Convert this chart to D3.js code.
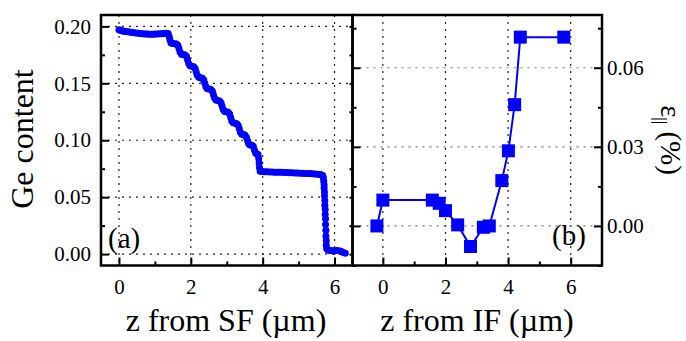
<!DOCTYPE html>
<html><head><meta charset="utf-8">
<script src="https://cdn.jsdelivr.net/npm/d3@7"></script>
</head><body style="margin:0;background:#fff">
<svg id="c" width="686" height="341"></svg>
<script>
// ---- Data: panel (a) Ge content vs z from SF (µm)
const zA = [0.00,0.04,0.08,0.13,0.18,0.24,0.30,0.36,0.42,0.48,0.54,0.60,0.66,0.72,0.78,0.84,0.90,0.96,1.02,1.08,1.14,1.20,1.26,1.32,1.37,1.40,1.42,1.45,
 1.50,1.55,1.60,1.64,1.67,1.70,1.74,1.79,1.84,1.88,1.91,1.94,1.98,2.03,2.08,2.12,2.15,2.18,2.22,2.27,2.32,2.36,2.39,2.42,2.46,2.51,2.56,2.60,2.63,2.66,
 2.70,2.75,2.80,2.84,2.87,2.90,2.94,2.99,3.04,3.08,3.11,3.14,3.18,3.23,3.28,3.32,3.35,3.38,3.42,3.47,3.51,3.55,3.58,3.61,3.65,3.70,3.74,3.77,3.80,3.84,
 3.87,3.89,3.90,3.91,3.93,3.98,4.05,4.12,4.19,4.26,4.33,4.40,4.47,4.54,4.61,4.68,4.75,4.82,4.89,4.96,5.03,5.10,5.17,5.24,5.31,5.38,5.45,5.52,5.58,5.63,
 5.67,5.69,5.70,5.71,5.71,5.72,5.72,5.73,5.73,5.74,5.74,5.75,5.75,5.76,5.76,5.77,5.77,5.78,5.82,5.88,5.94,6.00,6.06,6.12,6.18,6.24,6.30];
const geA = [0.1970,0.1965,0.1962,0.1958,0.1955,0.1952,0.1950,0.1947,0.1945,0.1942,0.1940,0.1938,0.1936,0.1934,0.1933,0.1932,0.1932,0.1932,0.1933,0.1934,0.1935,0.1936,0.1938,0.1940,0.1938,0.1910,0.1880,0.1855,
 0.1850,0.1848,0.1845,0.1835,0.1805,0.1775,0.1755,0.1752,0.1748,0.1735,0.1705,0.1675,0.1655,0.1650,0.1646,0.1630,0.1600,0.1570,0.1553,0.1550,0.1545,0.1530,0.1500,0.1470,0.1453,0.1450,0.1445,0.1430,0.1400,0.1370,
 0.1353,0.1350,0.1345,0.1330,0.1300,0.1270,0.1253,0.1250,0.1245,0.1230,0.1200,0.1170,0.1153,0.1150,0.1145,0.1130,0.1100,0.1070,0.1053,0.1050,0.1045,0.1025,0.0995,0.0970,0.0958,0.0955,0.0945,0.0915,0.0890,0.0880,
 0.0875,0.0840,0.0800,0.0760,0.0728,0.0725,0.0724,0.0723,0.0722,0.0721,0.0720,0.0720,0.0719,0.0718,0.0717,0.0716,0.0715,0.0714,0.0713,0.0712,0.0711,0.0710,0.0709,0.0708,0.0707,0.0706,0.0704,0.0702,0.0700,0.0697,
 0.0690,0.0670,0.0640,0.0610,0.0580,0.0545,0.0510,0.0470,0.0430,0.0395,0.0350,0.0310,0.0260,0.0210,0.0160,0.0120,0.0080,0.0050,0.0035,0.0032,0.0030,0.0030,0.0031,0.0030,0.0025,0.0015,0.0008];

// ---- Data: panel (b) strain vs z from IF (µm)
const zB   = [-0.19, 0.00, 1.58, 1.80, 2.00, 2.39, 2.80, 3.21, 3.40, 3.80, 4.01, 4.21, 4.39, 5.78];
const epsB = [0.0000, 0.0098, 0.0098, 0.0086, 0.0058, 0.0004, -0.0078, -0.0005, 0.0000, 0.0172, 0.0285, 0.0460, 0.0716, 0.0716];

// ---- Tick values
const xMajor = [0, 2, 4, 6];
const xMinor = [1, 3, 5];
const yAMajor = [0, 0.05, 0.10, 0.15, 0.20];
const yAMinor = [0.025, 0.075, 0.125, 0.175];
const yBMajor = [0, 0.03, 0.06];
const yBMinor = [-0.015, 0.015, 0.045, 0.075];

const FONT = "Liberation Serif";
const svg = d3.select("#c");
const yTop = 15, yBot = 265.5;
const axL = 101, mid = 352.5, axR = 602;
const blue = "#0000ff";

const xA = d3.scaleLinear().domain([-0.5, 6.5]).range([axL, mid]);
const yA = d3.scaleLinear().domain([-0.01, 0.21]).range([yBot, yTop]);
const xB = d3.scaleLinear().domain([-0.97, 7]).range([mid, axR]);
const yB = d3.scaleLinear().domain([-0.015, 0.08]).range([yBot, yTop]);

function grid(x, y, xv, yv, hColor) {
  const g = svg.append("g");
  g.selectAll("line.v").data(xv).join("line").attr("class", "v")
    .attr("x1", d => x(d)).attr("x2", d => x(d)).attr("y1", yTop).attr("y2", yBot)
    .attr("stroke", "#222").attr("stroke-width", 1.2).attr("stroke-dasharray", "2,5");
  g.selectAll("line.h").data(yv).join("line").attr("class", "h")
    .attr("x1", x.range()[0]).attr("x2", x.range()[1]).attr("y1", d => y(d)).attr("y2", d => y(d))
    .attr("stroke", hColor).attr("stroke-width", 1.2).attr("stroke-dasharray", "2,5");
}
grid(xA, yA, xMajor, yAMajor, "#222");
grid(xB, yB, xMajor, yBMajor, "#777");

function styleAxis(g, fs) {
  g.attr("font-family", FONT).attr("font-size", fs);
  g.select(".domain").remove();
  g.selectAll(".tick line").attr("stroke", "#000").attr("stroke-width", 2);
  g.selectAll("text").attr("font-size", fs).attr("fill", "#000").attr("font-family", FONT);
}
const fsTick = 21;

// Panel A axes
let g;
g = svg.append("g").attr("transform", `translate(0,${yBot})`)
  .call(d3.axisBottom(xA).tickValues(xMajor).tickSize(-8).tickPadding(14).tickFormat(d3.format("d")));
styleAxis(g, fsTick);
g = svg.append("g").attr("transform", `translate(0,${yBot})`)
  .call(d3.axisBottom(xA).tickValues(xMinor).tickSize(-4).tickFormat(""));
styleAxis(g, fsTick);
g = svg.append("g").attr("transform", `translate(${axL},0)`)
  .call(d3.axisLeft(yA).tickValues(yAMajor).tickSize(-8).tickPadding(10).tickFormat(d3.format(".2f")));
styleAxis(g, fsTick);
g = svg.append("g").attr("transform", `translate(${axL},0)`)
  .call(d3.axisLeft(yA).tickValues(yAMinor).tickSize(-4).tickFormat(""));
styleAxis(g, fsTick);
g = svg.append("g").attr("transform", `translate(${mid},0)`)
  .call(d3.axisRight(yA).tickValues(yAMajor.concat(yAMinor)).tickSize(-3).tickFormat(""));
styleAxis(g, fsTick);

// Panel B axes
g = svg.append("g").attr("transform", `translate(0,${yBot})`)
  .call(d3.axisBottom(xB).tickValues(xMajor).tickSize(-8).tickPadding(14).tickFormat(d3.format("d")));
styleAxis(g, fsTick);
g = svg.append("g").attr("transform", `translate(0,${yBot})`)
  .call(d3.axisBottom(xB).tickValues(xMinor).tickSize(-4).tickFormat(""));
styleAxis(g, fsTick);
g = svg.append("g").attr("transform", `translate(${axR},0)`)
  .call(d3.axisRight(yB).tickValues(yBMajor).tickSize(-8).tickPadding(5).tickFormat(d3.format(".2f")));
styleAxis(g, fsTick);
g = svg.append("g").attr("transform", `translate(${axR},0)`)
  .call(d3.axisRight(yB).tickValues(yBMinor).tickSize(-4).tickFormat(""));
styleAxis(g, fsTick);
g = svg.append("g").attr("transform", `translate(${mid},0)`)
  .call(d3.axisLeft(yB).tickValues(yBMajor).tickSize(-8).tickFormat(""));
styleAxis(g, fsTick);
g = svg.append("g").attr("transform", `translate(${mid},0)`)
  .call(d3.axisLeft(yB).tickValues(yBMinor).tickSize(-4).tickFormat(""));
styleAxis(g, fsTick);

// Panel A data
const dataA = zA.map((z, i) => ({ z, v: geA[i] }));
svg.append("g").selectAll("circle").data(dataA).join("circle")
  .attr("cx", d => xA(d.z)).attr("cy", d => yA(d.v)).attr("r", 3.5).attr("fill", blue);

// Panel B data
const dataB = zB.map((z, i) => ({ z, v: epsB[i] }));
svg.append("path").datum(dataB)
  .attr("d", d3.line().x(d => xB(d.z)).y(d => yB(d.v)))
  .attr("fill", "none").attr("stroke", blue).attr("stroke-width", 2);
const s = 13;
svg.append("g").selectAll("rect").data(dataB).join("rect")
  .attr("x", d => xB(d.z) - s / 2).attr("y", d => yB(d.v) - s / 2)
  .attr("width", s).attr("height", s).attr("fill", blue);

// Frames
svg.append("rect").attr("x", axL).attr("y", yTop).attr("width", mid - axL).attr("height", yBot - yTop)
  .attr("fill", "none").attr("stroke", "#000").attr("stroke-width", 2.5);
svg.append("rect").attr("x", mid).attr("y", yTop).attr("width", axR - mid).attr("height", yBot - yTop)
  .attr("fill", "none").attr("stroke", "#000").attr("stroke-width", 2.5);

// Labels
const fsTitle = 32;
function label(sel) { return sel.attr("font-family", FONT).attr("fill", "#000"); }
label(svg.append("text")).attr("x", 226).attr("y", 331).attr("text-anchor", "middle")
  .attr("font-size", fsTitle).text("z from SF (µm)");
label(svg.append("text")).attr("x", 477).attr("y", 331).attr("text-anchor", "middle")
  .attr("font-size", fsTitle).text("z from IF (µm)");
label(svg.append("text")).attr("transform", "translate(33,139) rotate(-90)").attr("text-anchor", "middle")
  .attr("font-size", fsTitle).text("Ge content");
const yl = label(svg.append("text")).attr("transform", "translate(661,140) rotate(90)").attr("text-anchor", "middle")
  .attr("font-size", 29);
yl.append("tspan").text("ε");
yl.append("tspan").attr("font-size", 17).attr("dy", 6).text("||");
yl.append("tspan").attr("dy", -6).text(" (%)");
label(svg.append("text")).attr("x", 108).attr("y", 248).attr("font-size", 29).text("(a)");
label(svg.append("text")).attr("x", 552).attr("y", 245).attr("font-size", 29).text("(b)");
</script>
</body></html>
